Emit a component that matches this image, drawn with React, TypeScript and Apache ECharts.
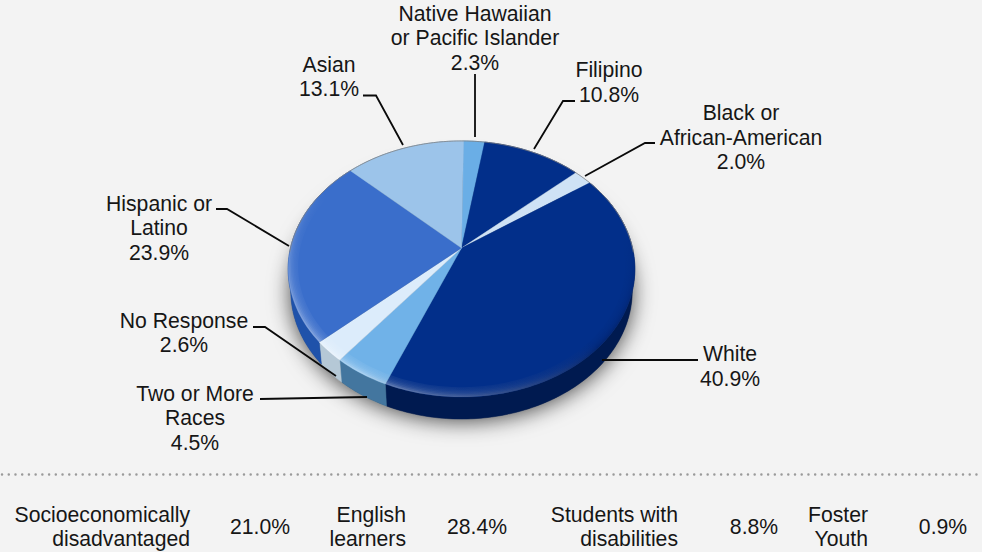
import React, { useEffect, useRef } from "react";
import * as echarts from "echarts";

// Enrollment shares, clockwise from twelve o'clock.
const groups = [
  "Native Hawaiian\nor Pacific Islander",
  "Filipino",
  "Black or\nAfrican-American",
  "White",
  "Two or More\nRaces",
  "No Response",
  "Hispanic or\nLatino",
  "Asian",
];
const shares = [2.3, 10.8, 2.0, 40.9, 4.5, 2.6, 23.9, 13.1];
const topColors = ["#6aaee6", "#022f8a", "#cfe2f5", "#022f8a", "#70b2e8", "#dcecfb", "#3a6ecb", "#9cc4ea"];
const wallColors = ["#4a82b5", "#011d5a", "#b4c8da", "#001a50", "#43769f", "#b5c8d6", "#1f52aa", "#6c93b8"];

const studentLabels = ["Socioeconomically\ndisadvantaged", "English\nlearners", "Students with\ndisabilities", "Foster\nYouth"];
const studentValues = [21.0, 28.4, 8.8, 0.9];

// Screen placement of each group's label and leader line.
const labelAnchors = [
  [475, 37.5], [609, 82], [741, 137], [730, 366], [195, 417.5], [184, 332.5], [159, 227.5], [329, 76.5],
];
const leaders = [
  [[475, 74], [475, 137]],
  [[575, 101], [563, 101], [534, 149]],
  [[655, 143], [645, 143], [585, 176]],
  [[698, 360], [602, 360]],
  [[260, 399], [367, 397]],
  [[253, 327], [265, 327], [336, 376]],
  [[216, 209], [227, 209], [289, 246]],
  [[363, 95.5], [376, 95.5], [403, 145]],
];
const statRightEdges = [190, 406, 678, 868];
const statValueCenters = [260, 477, 754, 943];

// Perspective disc: the centre of the circle projects above the ellipse centre.
const APEX_X = 461.5;
const APEX_Y = 248;
const RADIUS_X = 171;
const RADIUS_Y = 124.6;
const TILT = 0.164;
const WALL_DEPTH = 22;
const START_DEG = 0.8;

const FONT = "'Liberation Sans', Arial, sans-serif";
const total = shares.reduce((a, b) => a + b, 0);

function rimPoint(deg: number, r = 1, dy = 0, sx = 1): number[] {
  const t = (deg * Math.PI) / 180;
  const u = r * Math.sin(t);
  const v = -r * Math.cos(t);
  const den = 1 - TILT * v;
  return [APEX_X + (sx * RADIUS_X * u) / den, APEX_Y + (RADIUS_Y * v) / den + dy];
}

function arc(from: number, to: number, r = 1, dy = 0, sx = 1): number[][] {
  const pts: number[][] = [];
  const n = Math.max(2, Math.ceil(Math.abs(to - from)));
  for (let i = 0; i <= n; i++) pts.push(rimPoint(from + ((to - from) * i) / n, r, dy, sx));
  return pts;
}

function sliceRange(index: number): [number, number] {
  let before = 0;
  for (let i = 0; i < index; i++) before += shares[i];
  const a = START_DEG + (before / total) * 360;
  return [a, a + (shares[index] / total) * 360];
}

const sliceData = shares.map((v, i) => [i, v]);

const renderWall = (_: any, api: any) => {
  const i = api.value(0);
  const [a, b] = sliceRange(i);
  const pts = [...arc(a, b), ...arc(b, a, 1, WALL_DEPTH, 0.985)];
  return {
    type: "polygon",
    shape: { points: pts },
    style: { fill: wallColors[i], stroke: wallColors[i], lineWidth: 0.5 },
  };
};

const renderTop = (_: any, api: any) => {
  const i = api.value(0);
  const [a, b] = sliceRange(i);
  return {
    type: "polygon",
    shape: { points: [[APEX_X, APEX_Y], ...arc(a, b)] },
    style: { fill: topColors[i], stroke: topColors[i], lineWidth: 0.4 },
  };
};

function ring(outer: number, inner: number): number[][] {
  return [...arc(0, 360, outer), ...arc(360, 0, inner)];
}

function glow(x: number, y: number, x2: number, y2: number, rgb: string, alpha: number) {
  return {
    type: "linear",
    x,
    y,
    x2,
    y2,
    colorStops: [
      { offset: 0, color: `rgba(${rgb},${alpha})` },
      { offset: 1, color: `rgba(${rgb},0)` },
    ],
  };
}

// Soft bevel along the disc's edge: light on the lower left, dark on the lower right.
const renderBevel = () => {
  const steps = [1, 0.992, 0.984, 0.976, 0.968, 0.96, 0.952, 0.944];
  const children: any[] = [];
  for (let s = 0; s < steps.length - 1; s++) {
    children.push({
      type: "polygon",
      shape: { points: ring(steps[s], steps[s + 1]) },
      style: { fill: glow(0.12, 1, 0.5, 0.5, "255,255,255", 0.5 * Math.pow(0.72, s)) },
    });
    children.push({
      type: "polygon",
      shape: { points: ring(steps[s], steps[s + 1]) },
      style: { fill: glow(1, 0.8, 0.78, 0.5, "0,10,50", 0.3 * Math.pow(0.7, s)) },
    });
  }
  children.push({
    type: "polyline",
    shape: { points: arc(268, 452) },
    style: { fill: "none", stroke: "rgba(130,130,130,0.75)", lineWidth: 1 },
  });
  return { type: "group", children };
};

const renderShadow = () => ({
  type: "polygon",
  shape: { points: arc(0, 360, 1, WALL_DEPTH, 0.985) },
  style: {
    fill: "#555",
    shadowBlur: 22,
    shadowColor: "rgba(0,0,0,0.72)",
    shadowOffsetY: 2,
  },
});

function buildGraphics() {
  const elements: any[] = [];
  const textStyle = { fontFamily: FONT, fontSize: 21.2, lineHeight: 24.5, fill: "#161616" };
  groups.forEach((name, i) => {
    elements.push({
      type: "text",
      x: labelAnchors[i][0],
      y: labelAnchors[i][1],
      z: 10,
      style: {
        ...textStyle,
        text: `${name}\n${shares[i].toFixed(1)}%`,
        textAlign: "center",
        textVerticalAlign: "middle",
      },
    });
    elements.push({
      type: "polyline",
      z: 10,
      shape: { points: leaders[i] },
      style: { fill: "none", stroke: "#0a0a0a", lineWidth: 1.8 },
    });
  });
  studentLabels.forEach((name, i) => {
    elements.push({
      type: "text",
      x: statRightEdges[i],
      y: 526.5,
      z: 10,
      style: { ...textStyle, text: name, textAlign: "right", textVerticalAlign: "middle" },
    });
    elements.push({
      type: "text",
      x: statValueCenters[i],
      y: 526.5,
      z: 10,
      style: {
        ...textStyle,
        text: `${studentValues[i].toFixed(1)}%`,
        textAlign: "center",
        textVerticalAlign: "middle",
      },
    });
  });
  elements.push({
    type: "line",
    z: 10,
    shape: { x1: 2, y1: 474.5, x2: 981, y2: 474.5 },
    style: { stroke: "#9a9a9a", lineWidth: 2.4, lineDash: [0.1, 6.62], lineCap: "round" },
  });
  return elements;
}

export default function App() {
  const ref = useRef<HTMLDivElement>(null);

  useEffect(() => {
    document.body.style.margin = "0";
    const chart = echarts.init(ref.current!, undefined, { renderer: "svg" });
    const base = { type: "custom", coordinateSystem: "none", silent: true, clip: false } as any;
    chart.setOption({
      animation: false,
      backgroundColor: "#f3f3f3",
      series: [
        { ...base, z: 1, data: [[0]], renderItem: renderShadow },
        { ...base, z: 2, data: sliceData, renderItem: renderWall },
        { ...base, z: 3, data: sliceData, renderItem: renderTop },
        { ...base, z: 4, data: [[0]], renderItem: renderBevel },
      ],
      graphic: { elements: buildGraphics() },
    });
    return () => chart.dispose();
  }, []);

  return <div ref={ref} style={{ width: 982, height: 552 }} />;
}
